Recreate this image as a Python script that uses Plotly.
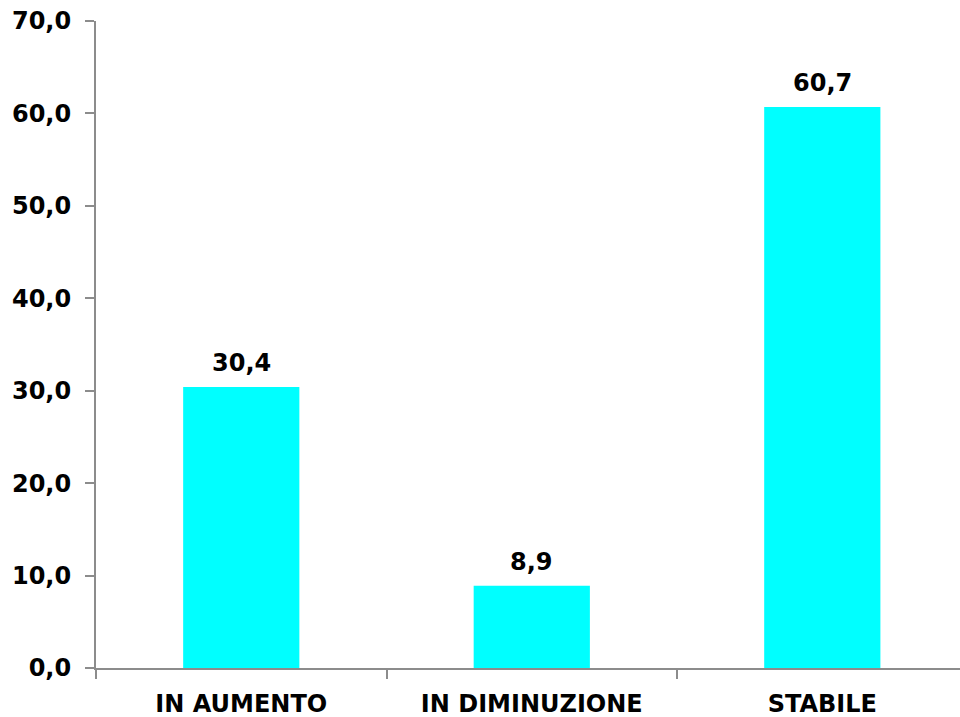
import plotly.graph_objects as go

categories = ["IN AUMENTO", "IN DIMINUZIONE", "STABILE"]
values = [30.4, 8.9, 60.7]
value_labels = ["30,4", "8,9", "60,7"]
y_ticks = [0, 10, 20, 30, 40, 50, 60, 70]

font = dict(family="DejaVu Sans", size=24, color="black", weight="bold")

fig = go.Figure()
fig.add_trace(go.Bar(x=categories, y=values, marker=dict(color="#00FFFF", line=dict(width=0)),
                     width=0.4, hoverinfo="skip"))

for c, v, t in zip(categories, values, value_labels):
    fig.add_annotation(x=c, y=v, text=t, showarrow=False, yanchor="bottom", yshift=8, font=font)

fig.update_layout(
    width=960, height=717,
    margin=dict(l=96, r=0, t=21, b=49),
    plot_bgcolor="white", paper_bgcolor="white",
    separators=",.",
    showlegend=False,
    xaxis=dict(range=[-0.5, 2.474], showgrid=False, showline=True, linecolor="#8c8c8c", linewidth=2,
               ticks="outside", tickson="boundaries", ticklen=9, tickcolor="#8c8c8c", tickwidth=2,
               tickfont=font, ticklabelstandoff=13, automargin=False),
    yaxis=dict(range=[0, 70], tickvals=y_ticks, tickformat=".1f", showgrid=False, zeroline=False,
               showline=True, linecolor="#8c8c8c", linewidth=2, ticks="outside", ticklen=9,
               tickcolor="#8c8c8c", tickwidth=2, tickfont=font, ticklabelstandoff=9,
               automargin=False),
)

fig.write_html("out.html", config={"displayModeBar": False},
               post_script="document.body.style.margin='0';document.body.style.overflow='hidden';")
